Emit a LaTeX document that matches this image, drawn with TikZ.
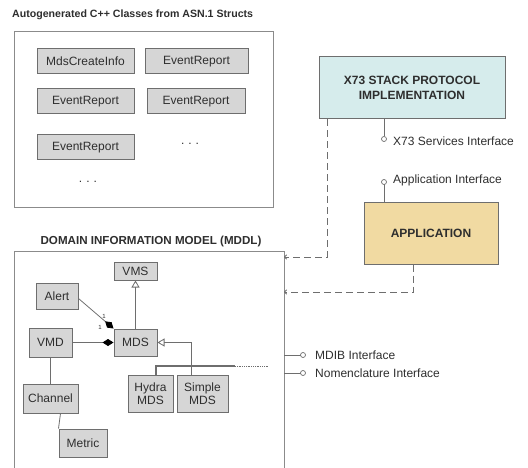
\documentclass[tikz,border=0pt]{standalone}
\usepackage{fontspec}
\setmainfont{Liberation Sans}
\usetikzlibrary{calc,arrows.meta}
\definecolor{boxfill}{HTML}{D6D6D6}
\definecolor{boxline}{HTML}{6E6E6E}
\definecolor{stackfill}{HTML}{D6ECEC}
\definecolor{appfill}{HTML}{F1DAA2}
\definecolor{txt}{HTML}{2E2E2E}
\tikzset{
  cls/.style={draw=boxline, fill=boxfill, line width=1pt, text=txt, inner sep=0pt, align=center, font=\fontsize{12}{13}\selectfont},
  big/.style={draw=boxline, line width=1pt, text=txt, inner sep=0pt, align=center, font=\fontsize{12}{15}\selectfont\bfseries},
  frame/.style={draw=boxline!80, line width=0.8pt},
  title/.style={text=txt, font=\fontsize{10.6}{12}\selectfont\bfseries, inner sep=0pt},
  iface/.style={text=txt, anchor=west, inner sep=0pt, font=\fontsize{12}{14}\selectfont},
  wire/.style={draw=boxline, line width=0.8pt},
  dep/.style={draw=boxline, line width=1pt, dash pattern=on 7pt off 4pt, -{To[length=3pt,width=5pt]}},
  lolli/.style={draw=boxline, line width=0.7pt, fill=white},
  agg/.style={-{Diamond[length=11pt, width=7pt, color=black]}}
}
\begin{document}
\begin{tikzpicture}[x=1pt,y=-1pt]
			%%%%% START %%%%%
			\useasboundingbox (0,0) rectangle (528,468);
			
			% generated classes
			\node[title, anchor=west] (asntitle) at (12, 15) {Autogenerated C++ Classes from ASN.1 Structs};
			\draw[frame] (14, 31) rectangle (273, 207);
			\node[cls, minimum width=97pt, minimum height=25pt] (mci) at (85.5, 61.5) {MdsCreateInfo};
			\node[cls, minimum width=103pt, minimum height=25pt] (erA) at (196.5, 61.5) {EventReport};
			\node[cls, minimum width=97pt, minimum height=25pt] (erB) at (85.5, 101.5) {EventReport};
			\node[cls, minimum width=98pt, minimum height=25pt] (erC) at (196, 101.5) {EventReport};
			\node[cls, minimum width=97pt, minimum height=25pt] (erD) at (85.5, 147.5) {EventReport};
			\node[text=txt, font=\fontsize{12}{12}\selectfont] (dotsA) at (190, 144) {.\,\,.\,\,.};
			\node[text=txt, font=\fontsize{12}{12}\selectfont] (dotsB) at (88, 182) {.\,\,.\,\,.};
			
			% stack and application
			\node[big, fill=stackfill, minimum width=186pt, minimum height=62pt] (stack) at (412, 88) {X73 STACK PROTOCOL\\IMPLEMENTATION};
			\node[big, fill=appfill, minimum width=134pt, minimum height=61pt] (app) at (431, 233.5) {APPLICATION};
			
			\coordinate (svc) at (384, 139);
			\coordinate (api) at (384, 182);
			\draw[wire] (stack.south -| svc) -- ($(svc)+(0,-2.5)$);
			\draw[lolli] (svc) circle (2.5);
			\node[iface] (svclabel) at (393, 141) {X73 Services Interface};
			\draw[wire] ($(api)+(0,2.5)$) -- (app.north -| api);
			\draw[lolli] (api) circle (2.5);
			\node[iface] (apilabel) at (393, 180) {Application Interface};
			
			% domain information model
			\node[title, font=\fontsize{11.6}{13}\selectfont\bfseries] (dimtitle) at (151, 242) {DOMAIN INFORMATION MODEL (MDDL)};
			\draw[frame] (14, 470) -- (14, 251) -- (284, 251) -- (284, 470);
			\coordinate (dimedge) at (284, 251);
			
			\node[cls, minimum width=43pt, minimum height=18pt] (vms) at (135.5, 271) {VMS};
			\node[cls, minimum width=42pt, minimum height=26pt] (alert) at (57, 296) {Alert};
			\node[cls, minimum width=43pt, minimum height=29pt] (vmd) at (50.5, 342.5) {VMD};
			\node[cls, minimum width=43pt, minimum height=27pt] (mds) at (135.5, 342.5) {MDS};
			\node[cls, minimum width=55pt, minimum height=29pt] (channel) at (50.5, 398.5) {Channel};
			\node[cls, minimum width=48pt, minimum height=28pt] (metric) at (83, 443) {Metric};
			\node[cls, minimum width=45pt, minimum height=37pt] (hydra) at (150.5, 393.5) {Hydra\\MDS};
			\node[cls, minimum width=51pt, minimum height=37pt] (simple) at (202.5, 393.5) {Simple\\MDS};
			
			\draw[wire, -{Triangle[open, length=7pt, width=8pt]}] (mds) -- (vms);
			\draw[wire, -{Triangle[open, length=7pt, width=8pt]}] (simple.north -| 191, 0) |- (mds.east);
			\draw[wire, agg] (vmd) -- (mds);
			\draw[wire, agg] (alert.south east) ++(0,-11) -- (mds.north west);
			\node[text=txt, font=\fontsize{6}{6}\selectfont] (oneA) at (104, 316) {1};
			\node[text=txt, font=\fontsize{6}{6}\selectfont] (oneB) at (100, 327) {1};
			\draw[wire] (vmd) -- (channel);
			\draw[wire] (channel.south) ++(10,0) -- (metric.north west);
			
			\coordinate (hydraend) at (235, 366);
			\coordinate (hydradots) at (268, 366);
			\draw[wire, line width=1.6pt] (hydra.north -| 156, 0) |- (hydraend);
			\draw[wire, densely dotted, line width=1pt] (hydraend) -- (hydradots);
			
			% interfaces of the model
			\coordinate (mdib) at (303, 355);
			\coordinate (nom) at (303, 373);
			\draw[wire] (mdib -| dimedge) -- ($(mdib)+(-2.5,0)$);
			\draw[lolli] (mdib) circle (2.5);
			\node[iface] (mdiblabel) at (315, 355) {MDIB Interface};
			\draw[wire] (nom -| dimedge) -- ($(nom)+(-2.5,0)$);
			\draw[lolli] (nom) circle (2.5);
			\node[iface] (nomlabel) at (315, 373) {Nomenclature Interface};
			
			% dependencies
			\draw[dep] (stack.south -| 327, 0) |- (284, 257);
			\draw[dep] (app.south -| 413, 0) |- (284, 292);
			
			%%%%% END %%%%%
\end{tikzpicture}
\end{document}
